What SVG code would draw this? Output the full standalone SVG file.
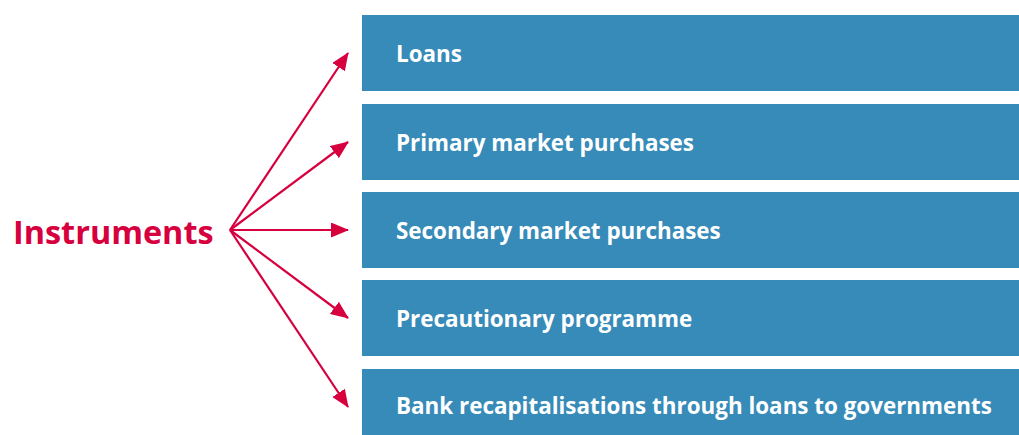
<svg xmlns="http://www.w3.org/2000/svg" width="1019" height="435" viewBox="0 0 1019 435">
  <style>
    .box { fill: #378bb8; }
    .label { font-family: "Open Sans", "Noto Sans", sans-serif; font-weight: bold; font-size: 22.4px; fill: #ffffff; }
    .title { font-family: "Open Sans", "Noto Sans", sans-serif; font-weight: bold; font-size: 32.4px; fill: #d7003f; }
    .conn { stroke: #d7003f; stroke-width: 2.2; fill: none; marker-end: url(#head); }
  </style>
  <defs>
    <!-- filled triangular arrowhead, tip placed on the line end -->
    <marker id="head" viewBox="0 0 18 15" refX="17" refY="7.5" markerWidth="18" markerHeight="15" markerUnits="userSpaceOnUse" orient="auto">
      <path d="M0,0 L18,7.5 L0,15 Z" fill="#d7003f" />
    </marker>
  </defs>
  <rect width="1019" height="435" fill="#ffffff" />

  <g id="instruments">
    <text class="title" x="13" y="244">Instruments</text>
  </g>

  <g id="connectors">
    <line class="conn" x1="230" y1="230" x2="348" y2="53" />
    <line class="conn" x1="230" y1="230" x2="348" y2="142" />
    <line class="conn" x1="230" y1="230" x2="348" y2="230" />
    <line class="conn" x1="230" y1="230" x2="348" y2="318" />
    <line class="conn" x1="230" y1="230" x2="348" y2="407" />
  </g>

  <g id="loans">
    <rect class="box" x="362" y="15" width="657" height="76" />
    <text class="label" x="396" y="62">Loans</text>
  </g>
  <g id="primary">
    <rect class="box" x="362" y="104" width="657" height="76" />
    <text class="label" x="396" y="151">Primary market purchases</text>
  </g>
  <g id="secondary">
    <rect class="box" x="362" y="192" width="657" height="76" />
    <text class="label" x="396" y="239">Secondary market purchases</text>
  </g>
  <g id="precautionary">
    <rect class="box" x="362" y="280" width="657" height="76" />
    <text class="label" x="396" y="327">Precautionary programme</text>
  </g>
  <g id="recap">
    <rect class="box" x="362" y="369" width="657" height="76" />
    <text class="label" x="396" y="414">Bank recapitalisations through loans to governments</text>
  </g>
</svg>
